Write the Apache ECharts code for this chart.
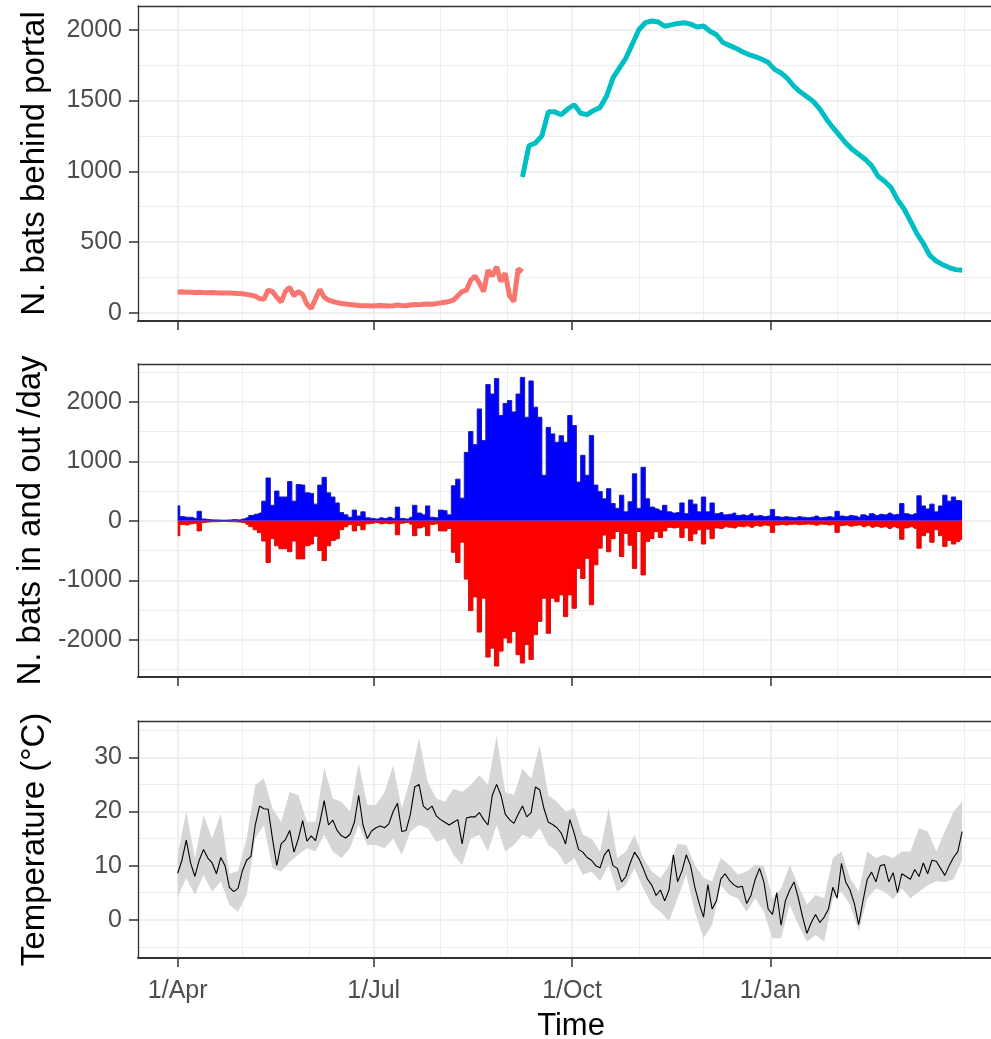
<!DOCTYPE html>
<html><head><meta charset="utf-8">
<script src="https://cdn.jsdelivr.net/npm/echarts@6/dist/echarts.min.js"></script>
<style>html,body{margin:0;padding:0;background:#fff}#c{width:991px;height:1039px}</style>
</head><body><div id="c"></div>
<script>
// ---------------- DATA ----------------
const START = '2017-04-01';
const MAJOR_DATES = ['2017-04-01', '2017-07-01', '2017-10-01', '2018-01-01'];
const MAJOR_LABELS = ['1/Apr', '1/Jul', '1/Oct', '1/Jan'];
const MINOR_DATES = ['2017-05-01', '2017-06-01', '2017-08-01', '2017-09-01', '2017-11-01', '2017-12-01', '2018-02-01', '2018-03-01', '2018-04-01'];

const Y1_TICKS = [0, 500, 1000, 1500, 2000];
const Y1_MINOR = [250, 750, 1250, 1750];
const Y2_TICKS = [-2000, -1000, 0, 1000, 2000];
const Y2_MINOR = [-2500, -1500, -500, 500, 1500, 2500];
const Y3_TICKS = [0, 10, 20, 30];
const Y3_MINOR = [-5, 5, 15, 25, 35];

// bats behind portal, period 1 (day offset 0, every 2 days)
const COUNT_A_OFFSET = 0, COUNT_A_STEP = 2;
const COUNT_A = [145, 148, 146, 145, 144, 145, 143, 142, 143, 141,
  140, 140, 139, 138, 136, 135, 130, 125, 118, 100,
  95, 160, 150, 110, 75, 150, 180, 120, 150, 130,
  60, 30, 100, 165, 110, 90, 80, 72, 66, 62,
  58, 55, 52, 50, 50, 48, 50, 52, 50, 48,
  50, 55, 52, 50, 55, 58, 56, 60, 62, 60,
  65, 70, 75, 80, 90, 120, 150, 160, 230, 260,
  210, 150, 300, 260, 325, 220, 280, 120, 80, 310, 290];
// bats behind portal, period 2 (day offset 160, every 3 days)
const COUNT_B_OFFSET = 160, COUNT_B_STEP = 3;
const COUNT_B = [960, 1180, 1200, 1250, 1420, 1420, 1400, 1440, 1470, 1410,
  1400, 1430, 1450, 1530, 1660, 1730, 1800, 1900, 2000, 2050,
  2062, 2055, 2025, 2035, 2045, 2050, 2040, 2020, 2027, 1990,
  1965, 1910, 1890, 1870, 1845, 1825, 1810, 1792, 1770, 1720,
  1695, 1655, 1600, 1560, 1527, 1493, 1440, 1370, 1310, 1255,
  1200, 1155, 1120, 1085, 1040, 965, 930, 885, 800, 735,
  650, 560, 490, 405, 365, 340, 320, 305, 300];

// bats in / out per day (every 2 days from 1 Apr)
const FLUX_STEP = 2;
const BATS_IN = [250, 70, 60, 60, 40, 160, 30, 20, 15, 15,
  10, 10, 15, 20, 15, 30, 50, 90, 110, 130,
  330, 720, 260, 500, 400, 400, 660, 330, 610, 600,
  470, 460, 280, 600, 730, 470, 400, 300, 140, 100,
  60, 180, 80, 150, 50, 40, 30, 50, 40, 60,
  40, 230, 40, 30, 60, 260, 130, 100, 250, 60,
  50, 180, 170, 100, 590, 700, 380, 1150, 1500, 1280,
  1880, 1350, 2290, 2130, 2390, 1770, 1970, 2020, 1830, 2130,
  2410, 1740, 2350, 1910, 1740, 765, 1570, 1460, 1320, 1430,
  1320, 1770, 1600, 650, 1100, 765, 1435, 600, 490, 370,
  540, 290, 210, 430, 150, 320, 790, 210, 900, 370,
  230, 200, 170, 260, 150, 130, 140, 300, 120, 350,
  280, 150, 400, 150, 300, 120, 140, 100, 110, 130,
  90, 100, 90, 120, 80, 90, 70, 80, 190, 70,
  60, 70, 60, 50, 70, 60, 50, 60, 80, 50,
  60, 70, 60, 160, 80, 70, 90, 80, 60, 100,
  80, 120, 90, 110, 100, 130, 100, 110, 290, 120,
  100, 120, 420, 250, 200, 280, 150, 250, 430, 330,
  400, 340, 330];
const BATS_OUT = [-250, -60, -70, -50, -40, -170, -30, -20, -15, -15,
  -10, -10, -15, -15, -20, -30, -60, -100, -150, -200,
  -340, -700, -300, -420, -470, -470, -520, -340, -640, -640,
  -420, -390, -260, -500, -670, -420, -330, -300, -150, -100,
  -60, -170, -80, -150, -50, -40, -30, -50, -40, -50,
  -40, -235, -40, -30, -60, -250, -120, -100, -250, -60,
  -50, -170, -170, -130, -530, -700, -360, -980, -1510, -1280,
  -1870, -1300, -2290, -2140, -2440, -2190, -1970, -2050, -1860, -2250,
  -2390, -2080, -2330, -1915, -1690, -1300, -1890, -1300, -1360, -1245,
  -1610, -1245, -1470, -800, -970, -630, -1410, -740, -460, -240,
  -520, -300, -180, -600, -210, -410, -800, -180, -910, -350,
  -300, -180, -280, -170, -110, -120, -110, -280, -120, -335,
  -220, -150, -390, -140, -300, -120, -130, -100, -110, -120,
  -90, -100, -85, -110, -80, -90, -70, -80, -195, -70,
  -60, -70, -60, -55, -65, -60, -55, -60, -75, -55,
  -60, -70, -60, -195, -80, -70, -90, -80, -70, -100,
  -80, -110, -90, -110, -100, -130, -100, -120, -310, -120,
  -100, -130, -460, -250, -200, -360, -150, -250, -430, -330,
  -390, -350, -310];

// temperature mean (every 2 days)
const TEMP_STEP = 2;
const TEMP_MEAN = [8.6, 11, 14.7, 10.5, 8, 11, 13, 11.4, 10.5, 8.5,
  11.5, 10, 6, 5.2, 5.8, 9, 11, 11.7, 17.5, 21,
  20.5, 20.4, 15, 10, 14, 14.8, 16.5, 12.5, 15, 18.3,
  14.5, 15.5, 14.6, 18, 22, 17.5, 18.4, 16.5, 15.5, 15.1,
  15.8, 18, 23, 17.5, 15, 16.4, 17, 17.3, 17, 17.7,
  20, 21.5, 16.3, 16.5, 19.5, 24.5, 25, 21, 20.3, 21,
  19.2, 18.5, 18, 17.5, 18, 18.5, 14, 18.8, 19, 19,
  19.8, 18.5, 17.5, 23, 25, 23, 19.5, 18.5, 17.8, 19.5,
  21, 19, 19.8, 24.5, 24, 20.5, 18, 17.6, 17, 16,
  14, 18.5, 16, 13, 12.5, 11.5, 11, 10, 9.6, 12,
  13, 10, 9.5, 7, 8, 10.5, 12.5, 11.3, 9.5, 7.5,
  6.4, 4.5, 5.5, 3.5, 5.5, 12, 7, 9, 12, 10,
  6, 3, 0.5, 6.5, 2, 3.5, 7.5, 8.5, 7.3, 6.5,
  6, 6.2, 3, 4.5, 7.5, 9.5, 7, 2, 1, 5,
  -1, 3.5, 5.5, 7, 4, 0.5, -2.5, -0.5, 1, -0.5,
  0.5, 2, 6, 4, 10.4, 7, 5.5, 3, -0.9, 3.5,
  7.5, 8.8, 7, 10, 10.2, 7, 8.7, 5, 8.5, 8,
  7.5, 9.3, 8, 10.5, 8.5, 11, 10.8, 9.5, 8.2, 10,
  11.5, 12.6, 16.3];

// temperature range (every 4 days)
const BAND_STEP = 4;
const TEMP_MAX = [12, 20, 11.4, 19.3, 15, 19.6, 8.5, 9, 15, 24.9,
  26.1, 20.6, 18.1, 23.6, 23, 18.1, 18.1, 28.2, 22.4, 21.8,
  20, 28.9, 21.2, 21.2, 23.6, 28.5, 20.6, 26.1, 33.5, 25.5,
  22.4, 21.8, 24.2, 23.6, 24.9, 26.7, 24.9, 34, 23.6, 23,
  27.9, 26.1, 32.2, 23, 21.8, 20, 20.6, 15.7, 15, 12.6,
  20.6, 11.4, 12.6, 15.7, 11.4, 8.9, 7.7, 10, 14, 13.8,
  10.1, 7.7, 7.1, 11.4, 10.1, 8.3, 8.9, 10.1, 10, 4,
  5.8, 10.1, 6.4, 2.8, 4.6, 4, 11.4, 12.6, 7.7, 5.2,
  12.6, 11.4, 12, 11.4, 12.6, 12.6, 16.9, 16.3, 12.6, 16.3,
  20, 21.8];
const TEMP_MIN = [4.3, 7.7, 4.6, 8.3, 5.2, 7.1, 2.8, 1.5, 4.6, 15,
  17.5, 9.5, 8.9, 10.7, 12, 13.2, 12.6, 15.7, 12.6, 11.4,
  13.2, 17.5, 13.8, 13.8, 13.2, 15, 12, 16.3, 17.5, 16.9,
  14.4, 15, 12, 10.1, 15, 15.7, 12.6, 17.5, 12.6, 13.8,
  15.7, 15, 16.9, 13.8, 12.6, 10.1, 11.4, 8.3, 8.9, 7.1,
  10.1, 5.2, 6.4, 9.5, 5.8, 2.8, 1.5, -0.3, 4, 8.3,
  1.5, -3.4, -0.9, 6.4, 4.6, 4, 1.5, 4, 1.5, -3.4,
  -3.4, 2.8, -0.9, -4, -2.8, -4, 4, 5.2, 2.8, -2.1,
  4, 5.8, 5.2, 3.8, 5.8, 4, 5.2, 6.4, 7.1, 7,
  7.5, 11];

// ---------------- CHART ----------------
// x values are days since START
const DAY = 86400000;
const toTs = s => Date.parse(s + 'T00:00:00Z');
const T0 = toTs(START);
const dayOf = s => Math.round((toTs(s) - T0) / DAY);
const series = (offset, step, arr) => arr.map((v, i) => [offset + i * step, v]);
const MAJOR_DAYS = MAJOR_DATES.map(dayOf);
const MINOR_DAYS = MINOR_DATES.map(dayOf);
const X_MIN = -18.4, X_MAX = 377.4;   // visible window (the panel runs past the right edge)
const FONT = "'Liberation Sans', Arial, Helvetica, sans-serif";
const GRID_COLOR = '#EBEBEB';
const FRAME = '#333333';

const grids = [
  { left: 138, right: 0, top: 6, height: 315 },
  { left: 138, right: 0, top: 364, height: 313 },
  { left: 138, right: 0, top: 721, height: 237 }
].map(g => Object.assign(g, { show: true, borderWidth: 0, backgroundColor: '#ffffff', containLabel: false, outerBoundsMode: 'none' }));

const xAxes = [];
[0, 1, 2].forEach(k => {
  xAxes.push({
    type: 'value', gridIndex: k, min: X_MIN, max: X_MAX, position: 'bottom',
    axisLine: { show: true, onZero: false, lineStyle: { color: FRAME, width: 2 } },
    axisTick: { show: true, length: 9, lineStyle: { color: FRAME, width: 1.5 }, customValues: MAJOR_DAYS },
    axisLabel: {
      show: k === 2, customValues: MAJOR_DAYS, color: '#4D4D4D', fontSize: 25, fontFamily: FONT, margin: 21,
      formatter: v => { const i = MAJOR_DAYS.indexOf(Math.round(v)); return i >= 0 ? MAJOR_LABELS[i] : ''; }
    },
    splitLine: { show: true, lineStyle: { color: GRID_COLOR, width: 1.6 } },
    name: k === 2 ? 'Time' : '', nameLocation: 'middle', nameGap: 53,
    nameTextStyle: { fontSize: 31, color: '#000', fontFamily: FONT, padding: [0, 0, 0, 13] }
  });
  xAxes.push({
    type: 'value', gridIndex: k, min: X_MIN, max: X_MAX, position: 'top',
    axisLine: { show: true, onZero: false, lineStyle: { color: FRAME, width: 1.3 } },
    axisTick: { show: false, customValues: MINOR_DAYS }, axisLabel: { show: false },
    splitLine: { show: true, lineStyle: { color: GRID_COLOR, width: 0.9 } }
  });
});

const yDefs = [
  { min: -58, max: 2168, ticks: Y1_TICKS, minor: Y1_MINOR, name: 'N. bats behind portal' },
  { min: -2625, max: 2635, ticks: Y2_TICKS, minor: Y2_MINOR, name: 'N. bats in and out /day' },
  { min: -7.05, max: 36.7, ticks: Y3_TICKS, minor: Y3_MINOR, name: 'Temperature (\u00B0C)' }
];
const yAxes = [];
yDefs.forEach((d, k) => {
  yAxes.push({
    type: 'value', gridIndex: k, min: d.min, max: d.max, position: 'left',
    axisLine: { show: true, onZero: false, lineStyle: { color: FRAME, width: 1.3 } },
    axisTick: { show: true, length: 9, lineStyle: { color: FRAME, width: 1.5 }, customValues: d.ticks },
    axisLabel: { show: true, customValues: d.ticks, color: '#4D4D4D', fontSize: 25, fontFamily: FONT, margin: 16,
      formatter: v => String(v) },
    splitLine: { show: true, lineStyle: { color: GRID_COLOR, width: 1.6 } },
    name: d.name, nameLocation: 'middle', nameRotate: 90, nameGap: 87,
    nameTextStyle: { fontSize: 33, color: '#000', fontFamily: FONT }
  });
  yAxes.push({
    type: 'value', gridIndex: k, min: d.min, max: d.max, position: 'left',
    axisLine: { show: false }, axisTick: { show: false, customValues: d.minor }, axisLabel: { show: false },
    splitLine: { show: true, lineStyle: { color: GRID_COLOR, width: 0.9 } }
  });
});

// temperature band as one polygon built through the axis scales
const BAND = TEMP_MIN.map((lo, i) => [i * BAND_STEP, lo, TEMP_MAX[i]]);
function renderBand(params, api) {
  if (params.dataIndex !== 0) return null;
  const upper = BAND.map(p => api.coord([p[0], p[2]]));
  const lower = BAND.map(p => api.coord([p[0], p[1]])).reverse();
  return { type: 'polygon', shape: { points: upper.concat(lower) }, style: { fill: '#D6D6D6' }, silent: true };
}

const option = {
  animation: false,
  backgroundColor: '#ffffff',
  grid: grids,
  xAxis: xAxes,
  yAxis: yAxes,
  series: [
    { type: 'line', xAxisIndex: 0, yAxisIndex: 0, data: series(COUNT_A_OFFSET, COUNT_A_STEP, COUNT_A),
      showSymbol: false, lineStyle: { color: '#F8766D', width: 5 }, itemStyle: { color: '#F8766D' }, z: 3 },
    { type: 'line', xAxisIndex: 0, yAxisIndex: 0, data: series(COUNT_B_OFFSET, COUNT_B_STEP, COUNT_B),
      showSymbol: false, lineStyle: { color: '#00BFC4', width: 5 }, itemStyle: { color: '#00BFC4' }, z: 3 },

    { type: 'line', xAxisIndex: 2, yAxisIndex: 2, data: series(0, FLUX_STEP, BATS_IN), step: 'middle',
      showSymbol: false, lineStyle: { color: '#1A1AB0', width: 1 }, areaStyle: { color: '#0000FF', opacity: 1 }, z: 3 },
    { type: 'line', xAxisIndex: 2, yAxisIndex: 2, data: series(0, FLUX_STEP, BATS_OUT), step: 'middle',
      showSymbol: false, lineStyle: { color: '#C81010', width: 1 }, areaStyle: { color: '#FF0000', opacity: 1 }, z: 3 },

    { type: 'custom', xAxisIndex: 4, yAxisIndex: 4, data: BAND, renderItem: renderBand,
      encode: { x: 0, y: [1, 2] }, z: 2, silent: true },
    { type: 'line', xAxisIndex: 4, yAxisIndex: 4, data: series(0, TEMP_STEP, TEMP_MEAN),
      showSymbol: false, lineStyle: { color: '#000000', width: 1.1 }, z: 3 }
  ]
};

const chart = echarts.init(document.getElementById('c'), null, { renderer: 'canvas' });
chart.setOption(option);
</script>
</body></html>
